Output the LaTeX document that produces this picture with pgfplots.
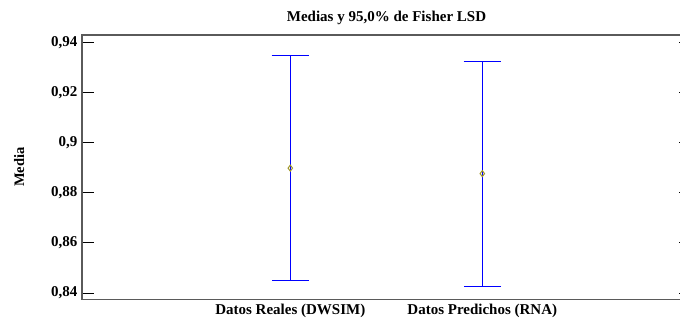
\documentclass[border=0pt]{standalone}
\usepackage{pgfplots}
\pgfplotsset{compat=1.18}
\usepackage{fontspec}
\setmainfont{Liberation Serif}
\definecolor{meanmark}{RGB}{160,150,40}
\definecolor{framegray}{RGB}{90,90,90}
\begin{document}
\begin{tikzpicture}[x=1pt,y=1pt]
\begin{axis}[
  at={(82pt,25.5pt)}, anchor=south west,
  scale only axis, width=609pt, height=264.5pt,
  xmin=-0.085, xmax=3.087,
  ymin=0.8374, ymax=0.9431,
  axis line style={framegray, line width=1.4pt},
  xtick={1,2},
  xticklabels={Datos Reales (DWSIM), Datos Predichos (RNA)},
  x tick style={draw=none},
  ytick={0.84,0.86,0.88,0.9,0.92,0.94},
  y tick style={black, line width=0.9pt},
  tick align=inside, major tick length=12pt,
  /pgf/number format/assume math mode=true,
  /pgf/number format/use comma,
  ticklabel style={font=\fontsize{15}{17}\selectfont\bfseries},
  yticklabel style={xshift=-1pt},
  xticklabel style={yshift=-1pt},
  ylabel={Media},
  ylabel style={font=\fontsize{14.5}{16}\selectfont\bfseries, yshift=20pt},
  title={Medias y 95,0\% de Fisher LSD},
  title style={font=\fontsize{15}{17}\selectfont\bfseries, yshift=1pt},
]
% group means with their 95% LSD intervals
\addplot[
  only marks,
  mark=diamond, mark size=3pt,
  mark options={meanmark, line width=1pt},
  error bars/.cd,
    y dir=both, y explicit,
    error bar style={blue, line width=1pt},
    error mark options={rotate=90, mark size=18.7pt, blue, line width=1pt},
] table[x=x, y=y, y error=e] {
x y e
1 0.8899 0.0450
2 0.8877 0.0450
};
\end{axis}
\pgfresetboundingbox
\useasboundingbox (0,0) rectangle (680pt,325pt);
\end{tikzpicture}
\end{document}
